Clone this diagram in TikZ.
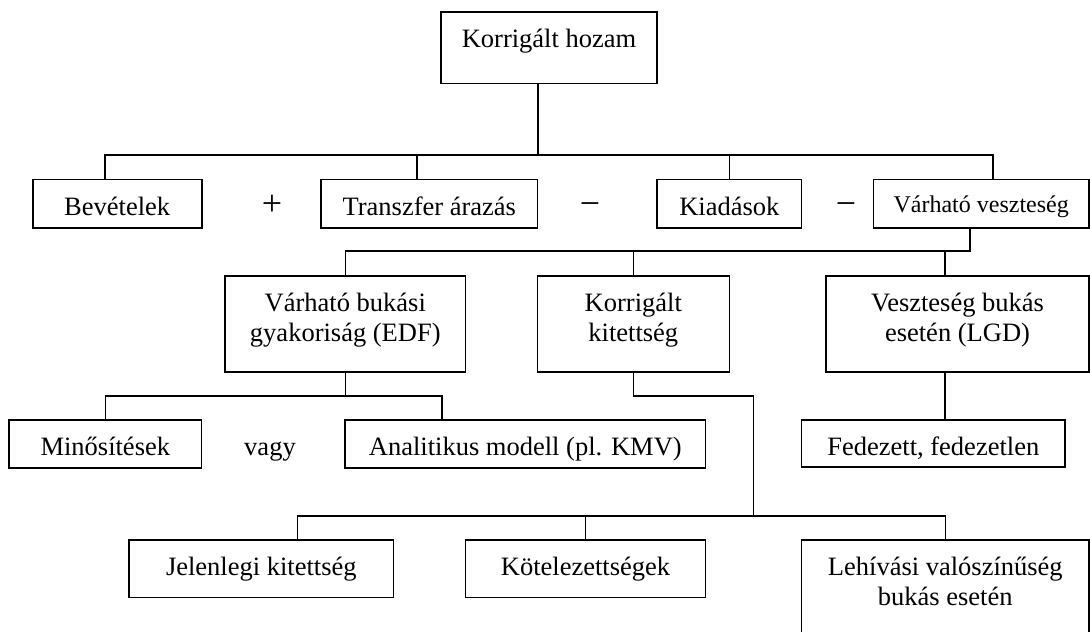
\documentclass[tikz,border=0pt]{standalone}
\usepackage{fontspec}
\setmainfont{Liberation Serif}
\begin{document}
\begin{tikzpicture}[x=1pt,y=-1pt,
  box/.style={draw, line width=1.6pt, rectangle, inner sep=0pt,
    font=\fontsize{26.5}{30}\selectfont},
  conn/.style={line width=1.6pt},
  sym/.style={inner sep=0pt, anchor=center, text height=18pt, text depth=0pt,
    font=\fontsize{36}{40}\selectfont},
  word/.style={inner sep=0pt, anchor=base, font=\fontsize{26.5}{30}\selectfont}]
\useasboundingbox (0,0) rectangle (1090,632);

% level 1
\node[box, minimum width=216pt, minimum height=71.6pt, text height=5pt, text depth=5pt]
  (top) at (549,47.5) {Korrigált hozam};

% level 2
\node[box, minimum width=169pt, minimum height=48.7pt, text height=27.6pt, text depth=5pt]
  (bev) at (117.2,203.7) {Bevételek};
\node[box, minimum width=216.7pt, minimum height=48.7pt, text height=27.6pt, text depth=5pt]
  (tra) at (429.3,203.7) {Transzfer árazás};
\node[box, minimum width=144.7pt, minimum height=48.7pt, text height=27.6pt, text depth=5pt]
  (kia) at (729.3,203.7) {Kiadások};
\node[box, minimum width=215.7pt, minimum height=48.7pt, text height=21.6pt, text depth=5pt,
  font=\fontsize{24}{28}\selectfont]
  (vv) at (981.2,203.7) {Várható veszteség};
\node[sym] (plus) at (272,206) {+};
\node[sym] (minus1) at (590,206) {−};
\node[sym] (minus2) at (846,206) {−};

% level 3
\node[box, minimum width=240.7pt, minimum height=96pt, text height=5pt, text depth=29pt]
  (edf) at (345.3,323.7) {\begin{tabular}[t]{@{}c@{}}Várható bukási\\gyakoriság (EDF)\end{tabular}};
\node[box, minimum width=192pt, minimum height=96pt, text height=5pt, text depth=29pt]
  (kk) at (633.3,323.7) {\begin{tabular}[t]{@{}c@{}}Korrigált\\kitettség\end{tabular}};
\node[box, minimum width=263pt, minimum height=96pt, text height=5pt, text depth=29pt]
  (lgd) at (957.5,323.7) {\begin{tabular}[t]{@{}c@{}}Veszteség bukás\\esetén (LGD)\end{tabular}};

% level 4
\node[box, minimum width=192.7pt, minimum height=48pt, text height=27pt, text depth=5pt]
  (min) at (105.3,444) {Minősítések};
\node[word] (vagy) at (270,455) {vagy};
\node[box, minimum width=360.6pt, minimum height=48pt, text height=27pt, text depth=5pt]
  (ana) at (525.3,444) {Analitikus modell (pl. KMV)};
\node[box, minimum width=263.3pt, minimum height=47pt, text height=28.4pt, text depth=5pt]
  (fed) at (933.3,443.5) {Fedezett, fedezetlen};

% level 5
\node[box, minimum width=264.7pt, minimum height=57.7pt, text height=17.4pt, text depth=5pt]
  (jel) at (261.3,568.8) {Jelenlegi kitettség};
\node[box, minimum width=240.3pt, minimum height=57.7pt, text height=17.4pt, text depth=5pt]
  (kot) at (585.5,568.8) {Kötelezettségek};
\node[box, minimum width=287.3pt, minimum height=120pt, text height=5pt, text depth=54pt]
  (leh) at (945.3,600) {\begin{tabular}[t]{@{}c@{}}Lehívási valószínűség\\bukás esetén\end{tabular}};

% connector attachment points
\coordinate (topout) at ([xshift=-11pt]top.south);
\coordinate (bevin) at ([xshift=-12.2pt]bev.north);
\coordinate (train) at ([xshift=-12.3pt]tra.north);
\coordinate (vvin) at ([xshift=11.8pt]vv.north);
\coordinate (vvout) at ([xshift=-11.2pt]vv.south);
\coordinate (lgdin) at ([xshift=-12.5pt]lgd.north);
\coordinate (lgdout) at ([xshift=-12.5pt]lgd.south);
\coordinate (fedin) at ([xshift=11.7pt]fed.north);
\coordinate (anain) at ([xshift=-83.6pt]ana.north);
\coordinate (jelin) at ([xshift=36pt]jel.north);
\coordinate (bus1) at (0,155);
\coordinate (bus2) at (0,250.7);
\coordinate (bus3) at (0,395.7);
\coordinate (bus4) at (0,515.7);
\coordinate (kkbend) at (753.5,395.7);

% connectors
\draw[conn] (topout) -- (topout |- bus1);
\draw[conn] (bevin) -- (bevin |- bus1) -- (vvin |- bus1) -- (vvin);
\draw[conn] (train) -- (train |- bus1);
\draw[conn] (kia.north) -- (kia.north |- bus1);

\draw[conn] (vvout) -- (vvout |- bus2) -- (edf.north |- bus2) -- (edf.north);
\draw[conn] (kk.north) -- (kk.north |- bus2);
\draw[conn] (lgdin) -- (lgdin |- bus2);

\draw[conn] (edf.south) -- (edf.south |- bus3);
\draw[conn] (min.north) -- (min.north |- bus3) -- (anain |- bus3) -- (anain);

\draw[conn] (kk.south) |- (kkbend) -- (kkbend |- bus4);
\draw[conn] (jelin) -- (jelin |- bus4) -- (leh.north |- bus4) -- (leh.north);
\draw[conn] (kot.north) -- (kot.north |- bus4);

\draw[conn] (lgdout) -- (fedin);
\end{tikzpicture}
\end{document}
